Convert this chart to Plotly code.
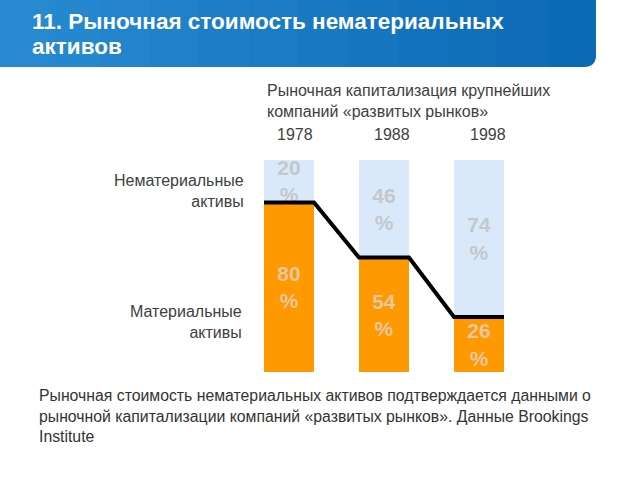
import plotly.graph_objects as go

years = ["1978", "1988", "1998"]
tangible = [80, 54, 26]
intangible = [20, 46, 74]

W, H = 640, 480
FONT = "Arial, Liberation Sans, sans-serif"

xpos = list(range(len(years)))
bw = 0.526

fig = go.Figure()
fig.add_trace(go.Bar(
    x=xpos, y=tangible, width=bw, marker=dict(color="#FF9900", line=dict(width=0)),
    text=[f"<b>{v}<br>%</b>" for v in tangible], textposition="inside", insidetextanchor="middle",
    constraintext="none", cliponaxis=False,
    textfont=dict(family=FONT, size=21, color="#E6C7A2"), textangle=0, showlegend=False,
    hoverinfo="skip"))
fig.add_trace(go.Bar(
    x=xpos, y=intangible, width=bw, marker=dict(color="#D9E9FA", line=dict(width=0)),
    text=[f"<b>{v}<br>%</b>" for v in intangible], textposition="inside", insidetextanchor="middle",
    constraintext="none", cliponaxis=False,
    textfont=dict(family=FONT, size=21, color="#C4C7CB"), textangle=0, showlegend=False,
    hoverinfo="skip"))

lx, ly = [], []
for i, v in enumerate(tangible):
    lx += [i - bw / 2, i + bw / 2]
    ly += [v, v]
fig.add_trace(go.Scatter(x=lx, y=ly, mode="lines", line=dict(color="black", width=4),
                         showlegend=False, hoverinfo="skip"))

px_per_unit = 95.0
x0_px = 289.0
ypx_per = 2.12
y0_px = 372.0

def px(x):
    return x / W

def py(y):
    return 1 - y / H

fig.update_layout(
    width=W, height=H, margin=dict(l=0, r=0, t=0, b=0),
    paper_bgcolor="white", plot_bgcolor="rgba(0,0,0,0)",
    barmode="stack", bargap=0,
    xaxis=dict(range=[-x0_px / px_per_unit, (W - x0_px) / px_per_unit], visible=False, fixedrange=True),
    yaxis=dict(range=[-(H - y0_px) / ypx_per, y0_px / ypx_per], visible=False, fixedrange=True),
    font=dict(family=FONT),
)

# header banner (approximate gradient with vertical strips)
r = 12
x1, y1 = 596, 67
c0 = (40, 140, 210)
c1 = (10, 104, 180)
n = 12
for k in range(n):
    xa = x1 * k / n
    xb = x1 * (k + 1) / n + 0.6
    t = (k + 0.5) / n
    col = "rgb({},{},{})".format(*[round(a + (b - a) * t) for a, b in zip(c0, c1)])
    if k < n - 1:
        path = (f"M {px(xa)},{py(0)} L {px(min(xb, x1))},{py(0)} L {px(min(xb, x1))},{py(y1)} "
                f"L {px(xa)},{py(y1)} Z")
    else:
        path = (f"M {px(xa)},{py(0)} L {px(x1)},{py(0)} L {px(x1)},{py(y1 - r)} "
                f"Q {px(x1)},{py(y1)} {px(x1 - r)},{py(y1)} L {px(xa)},{py(y1)} Z")
    fig.add_shape(type="path", path=path, xref="paper", yref="paper",
                  fillcolor=col, line=dict(width=0), layer="below")

annotations = [
    dict(text="<b>11. Рыночная стоимость нематериальных</b>", x=30, y=22,
         xanchor="left", yanchor="middle", align="left", size=22.5, color="white"),
    dict(text="<b>активов</b>", x=30, y=46,
         xanchor="left", yanchor="middle", align="left", size=22.5, color="white"),
    dict(text="Рыночная капитализация крупнейших<br>компаний «развитых рынков»", x=265, y=101,
         xanchor="left", yanchor="middle", align="left", size=16, color="#404040"),
    dict(text="Нематериальные<br>активы", x=246, y=191, xanchor="right", yanchor="middle",
         align="right", size=16, color="#404040"),
    dict(text="Материальные<br>активы", x=244, y=322, xanchor="right", yanchor="middle",
         align="right", size=16, color="#404040"),
    dict(text="Рыночная стоимость нематериальных активов подтверждается данными о<br>"
              "рыночной капитализации компаний «развитых рынков». Данные Brookings<br>Institute",
         x=37, y=416, xanchor="left", yanchor="middle", align="left", size=15.8, color="#333333"),
]
for a in annotations:
    fig.add_annotation(text=a["text"], x=px(a["x"]), y=py(a["y"]), xref="paper", yref="paper",
                       xanchor=a["xanchor"], yanchor=a["yanchor"], align=a["align"],
                       showarrow=False, font=dict(family=FONT, size=a["size"], color=a["color"]))

year_px = [295, 392, 488]
for yr, xp in zip(years, year_px):
    fig.add_annotation(text=yr, x=px(xp), y=py(134), xref="paper", yref="paper",
                       xanchor="center", yanchor="middle",
                       showarrow=False, font=dict(family=FONT, size=16, color="#404040"))

fig.write_html("out.html", config={"displayModeBar": False},
               post_script="document.body.style.margin='0';")
